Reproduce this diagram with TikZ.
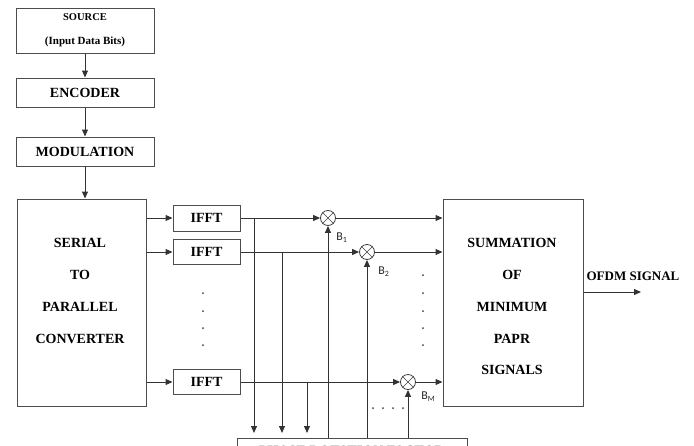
\documentclass[tikz,border=0pt]{standalone}
\usepackage{fontspec}
\setmainfont{Liberation Serif}
\newfontfamily\blabel{Carlito}
\usetikzlibrary{arrows.meta,positioning}
\begin{document}
\begin{tikzpicture}[x=1pt,y=-1pt,line width=0.9pt,
  blk/.style={draw=black!70,line width=1pt,rectangle,inner sep=0pt,font=\bfseries\fontsize{14}{16}\selectfont,align=center},
  mult/.style={draw=black!75,circle,minimum size=15pt,inner sep=0pt,line width=0.8pt},
  arr/.style={-{Triangle[length=7pt,width=6pt]},draw=black!80,line width=1pt},
  dotm/.style={fill=black!75,draw=none,circle,inner sep=0pt,minimum size=2pt},
  bl/.style={font=\blabel\fontsize{12}{13}\selectfont,text=black!85,inner sep=0pt},
  txt/.style={font=\bfseries\fontsize{14}{16}\selectfont}
]
\useasboundingbox (0,0) rectangle (694,445);
\clip (0,0) rectangle (694,445);
% blocks
\node[blk,minimum width=138pt,minimum height=45pt] (src) at (85,30.5) {};
\node[font=\bfseries\fontsize{10.5}{12}\selectfont] (srct) at (85,17) {SOURCE};
\node[font=\bfseries\fontsize{11}{12}\selectfont] (srcb) at (85,42) {(Input Data Bits)};
\node[blk,minimum width=138pt,minimum height=29pt] (enc) at (85,92.5) {ENCODER};
\node[blk,minimum width=138pt,minimum height=29pt] (mod) at (85,151.5) {MODULATION};
\node[blk,minimum width=129pt,minimum height=207pt] (sp) at (81.5,302.5) {};
\node[txt] (sp1) at (80,243) {SERIAL};
\node[txt] (sp2) at (80,275) {TO};
\node[txt] (sp3) at (80,307) {PARALLEL};
\node[txt] (sp4) at (80,339) {CONVERTER};

\node[blk,minimum width=67pt,minimum height=26pt] (i1) at (206.5,218) {IFFT};
\node[blk,minimum width=67pt,minimum height=25pt] (i2) at (206.5,252) {IFFT};
\node[blk,minimum width=67pt,minimum height=25pt] (i3) at (206.5,382) {IFFT};

\node[mult] (m1) at (328,218) {};
\node[mult] (m2) at (367,252) {};
\node[mult] (m3) at (408,382) {};
\foreach \m in {m1,m2,m3}{
  \draw[line width=0.6pt,draw=black!75] (\m.north west) -- (\m.south east) (\m.north east) -- (\m.south west);
}

\node[blk,minimum width=140pt,minimum height=207pt] (sum) at (513,302.5) {};
\node[txt] (s1) at (512,243) {SUMMATION};
\node[txt] (s2) at (512,275) {OF};
\node[txt] (s3) at (512,307) {MINIMUM};
\node[txt] (s4) at (512,339) {PAPR};
\node[txt] (s5) at (512,370) {SIGNALS};

\node[blk,minimum width=230pt,minimum height=30pt] (ph) at (352,453) {};
\node[txt] (pht) at (352,451) {PHASE ROTATION FACTOR};

\node[font=\bfseries\fontsize{13}{15}\selectfont,inner sep=0pt] (out) at (633,276) {OFDM SIGNAL};
\coordinate (oute) at (641,292);

% labels
\node[bl,anchor=west] (b1) at (336,238) {B\textsubscript{1}};
\node[bl,anchor=west] (b2) at (378,272) {B\textsubscript{2}};
\node[bl,anchor=west] (bm) at (421,397) {B\textsubscript{M}};

% vertical chain
\draw[arr] (src) -- (enc);
\draw[arr] (enc) -- (mod);
\draw[arr] (mod.south) -- (mod.south |- sp.north);

% serial to IFFT
\draw[arr] (sp.east |- i1) -- (i1.west);
\draw[arr] (sp.east |- i2) -- (i2.west);
\draw[arr] (sp.east |- i3) -- (i3.west);

% IFFT to multipliers to summation
\draw[arr] (i1.east) -- (m1.west);
\draw[arr] (i2.east) -- (m2.west);
\draw[arr] (i3.east) -- (m3.west);
\draw[arr] (m1.east) -- (sum.west |- m1);
\draw[arr] (m2.east) -- (sum.west |- m2);
\draw[arr] (m3.east) -- (sum.west |- m3);

% taps down to phase rotation box
\coordinate (t1) at (254,218);
\coordinate (t2) at (282,252);
\coordinate (t3) at (307,382);
\draw[arr] (t1) -- (254,433);
\draw[arr] (t2) -- (282,433);
\draw[arr] (t3) -- (307,433);

% phase factors up to multipliers
\draw[arr] (m1 |- ph.north) -- (m1.south);
\draw[arr] (m2 |- ph.north) -- (m2.south);
\draw[arr] (m3 |- ph.north) -- (m3.south);

% output
\draw[arr] (sum.east |- oute) -- (oute);

% dots
\foreach \yy in {293,311,328,345} \node[dotm] at (203,\yy) {};
\foreach \yy in {275,293,311,328,345} \node[dotm] at (423,\yy) {};
\foreach \xx in {373,383,393,403} \node[dotm] at (\xx,408) {};
\end{tikzpicture}
\end{document}
